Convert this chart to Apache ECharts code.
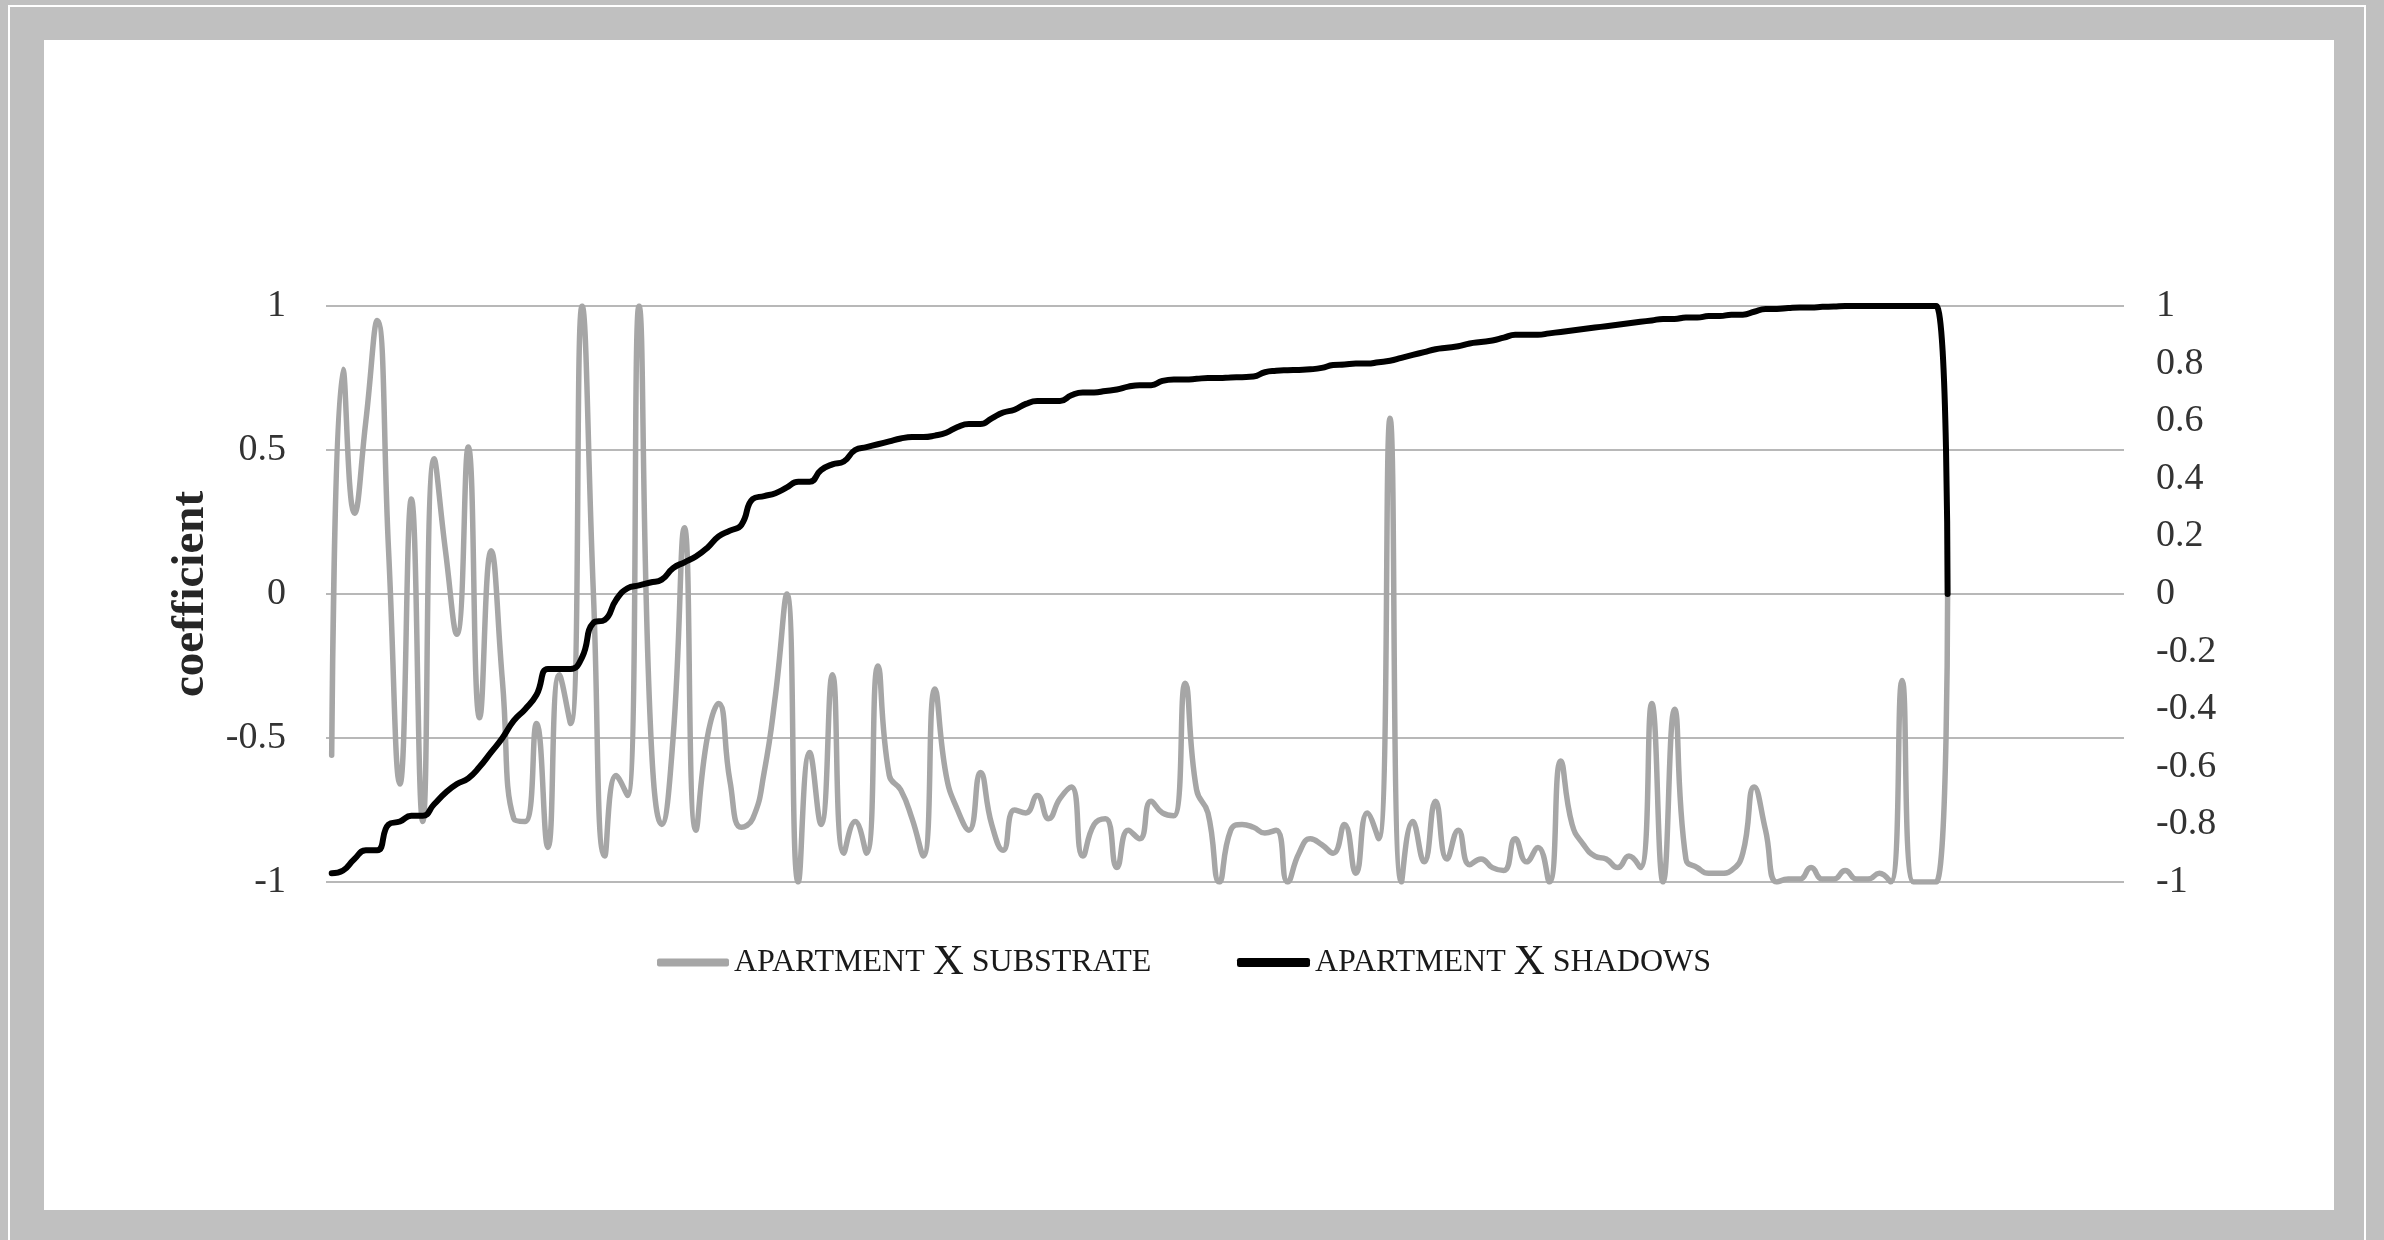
<!DOCTYPE html>
<html>
<head>
<meta charset="utf-8">
<title>coefficient</title>
<script src="https://cdn.jsdelivr.net/npm/echarts@6/dist/echarts.min.js"></script>
<style>
  html, body { margin: 0; padding: 0; width: 2384px; height: 1240px; overflow: hidden; background: #c0c0c0; }
  /* thin white rule inside the grey mount */
  #rule { position: absolute; left: 8px; top: 5px; width: 2358px; height: 1260px; border: 2px solid #ffffff; box-sizing: border-box; }
  /* white paper panel */
  #panel { position: absolute; left: 44px; top: 40px; width: 2290px; height: 1170px; background: #ffffff; }
  #chart { position: absolute; left: 0; top: 0; width: 2384px; height: 1240px; }
</style>
</head>
<body>
<div id="rule"></div>
<div id="panel"></div>
<div id="chart"></div>
<script>
// number of category slots along the horizontal axis (the last ones stay empty)
const CATEGORY_COUNT = 158;
const categories = Array.from({ length: CATEGORY_COUNT }, (_, i) => String(i + 1));

// left axis ticks and right axis ticks
const leftTicks = [-1, -0.5, 0, 0.5, 1];
const rightTicks = [-1, -0.8, -0.6, -0.4, -0.2, 0, 0.2, 0.4, 0.6, 0.8, 1];

// apartment X substrate (grey)
const substrate = [
  -0.56, 0.78, 0.28, 0.60, 0.95, 0.15, -0.66, 0.33, -0.79, 0.47,
  0.15, -0.14, 0.51, -0.43, 0.15, -0.30, -0.78, -0.79, -0.45, -0.88,
  -0.28, -0.45, 1.00, 0.00, -0.91, -0.63, -0.70, 1.00, -0.45, -0.80,
  -0.50, 0.23, -0.82, -0.50, -0.38, -0.65, -0.81, -0.78, -0.62, -0.35,
  0.00, -1.00, -0.55, -0.80, -0.28, -0.90, -0.79, -0.90, -0.25, -0.63,
  -0.68, -0.78, -0.91, -0.33, -0.63, -0.75, -0.82, -0.62, -0.80, -0.89,
  -0.75, -0.76, -0.70, -0.78, -0.71, -0.67, -0.91, -0.80, -0.78, -0.95,
  -0.82, -0.85, -0.72, -0.76, -0.77, -0.31, -0.68, -0.76, -1.00, -0.82,
  -0.80, -0.81, -0.83, -0.82, -1.00, -0.90, -0.85, -0.87, -0.90, -0.80,
  -0.97, -0.76, -0.85, 0.61, -1.00, -0.79, -0.93, -0.72, -0.92, -0.82,
  -0.94, -0.92, -0.95, -0.96, -0.85, -0.93, -0.88, -1.00, -0.58, -0.80,
  -0.87, -0.91, -0.92, -0.95, -0.91, -0.95, -0.38, -1.00, -0.40, -0.92,
  -0.95, -0.97, -0.97, -0.96, -0.90, -0.67, -0.82, -1.00, -0.99, -0.99,
  -0.95, -0.99, -0.99, -0.96, -0.99, -0.99, -0.97, -1.00, -0.30, -1.00,
  -1.00, -1.00, 0.00
];

// apartment X shadows (black)
const shadows = [
  -0.97, -0.96, -0.92, -0.89, -0.89, -0.80, -0.79, -0.77, -0.77, -0.73,
  -0.69, -0.66, -0.64, -0.60, -0.55, -0.50, -0.44, -0.40, -0.35, -0.26,
  -0.26, -0.26, -0.22, -0.10, -0.09, -0.02, 0.02, 0.03, 0.04, 0.05,
  0.09, 0.11, 0.13, 0.16, 0.20, 0.22, 0.24, 0.33, 0.34, 0.35,
  0.37, 0.39, 0.39, 0.43, 0.45, 0.46, 0.50, 0.51, 0.52, 0.53,
  0.54, 0.545, 0.545, 0.55, 0.56, 0.58, 0.59, 0.59, 0.61, 0.63,
  0.64, 0.66, 0.67, 0.67, 0.67, 0.69, 0.70, 0.70, 0.705, 0.71,
  0.72, 0.725, 0.725, 0.74, 0.745, 0.745, 0.747, 0.75, 0.75, 0.752,
  0.753, 0.755, 0.77, 0.775, 0.777, 0.778, 0.78, 0.785, 0.795, 0.797,
  0.80, 0.80, 0.805, 0.81, 0.82, 0.83, 0.84, 0.85, 0.855, 0.86,
  0.87, 0.875, 0.88, 0.89, 0.90, 0.90, 0.90, 0.905, 0.91, 0.915,
  0.92, 0.925, 0.93, 0.935, 0.94, 0.945, 0.95, 0.955, 0.955, 0.96,
  0.96, 0.965, 0.965, 0.97, 0.97, 0.98, 0.99, 0.99, 0.993, 0.995,
  0.995, 0.997, 0.998, 1.00, 1.00, 1.00, 1.00, 1.00, 1.00, 1.00,
  1.00, 1.00, 0.00
];

const SERIF = '"Liberation Serif", "DejaVu Serif", serif';
const GREY = '#a6a6a6';

// small-caps look: lower-case words set in reduced capitals, the "X" in full size
function smallCaps(name) {
  return name.split(' ').map(w => w === 'X' ? '{x|X}' : '{sc|' + w.toUpperCase() + '}').join(' ');
}
const legendText = {
  fontFamily: SERIF, fontSize: 32, color: '#1a1a1a',
  rich: {
    sc: { fontFamily: SERIF, fontSize: 32, color: '#1a1a1a' },
    x: { fontFamily: SERIF, fontSize: 43, color: '#1a1a1a' }
  }
};

const chart = echarts.init(document.getElementById('chart'), null, { renderer: 'canvas' });
chart.setOption({
  animation: false,
  backgroundColor: 'transparent',
  grid: { left: 326, right: 260, top: 306, bottom: 358 },
  legend: [
    {
      data: ['apartment X substrate'], left: 652, top: 936,
      icon: 'roundRect', itemWidth: 72, itemHeight: 8,
      formatter: smallCaps, textStyle: legendText, selectedMode: false
    },
    {
      data: ['apartment X shadows'], left: 1232, top: 936,
      icon: 'roundRect', itemWidth: 73, itemHeight: 9,
      formatter: smallCaps, textStyle: legendText, selectedMode: false
    }
  ],
  xAxis: {
    type: 'category', data: categories, boundaryGap: true,
    axisLine: { show: false }, axisTick: { show: false }, axisLabel: { show: false }, splitLine: { show: false }
  },
  yAxis: [
    {
      type: 'value', min: leftTicks[0], max: leftTicks[leftTicks.length - 1], interval: 0.5,
      position: 'left',
      name: 'coefficient', nameLocation: 'middle', nameGap: 112, nameRotate: 90,
      nameTextStyle: { fontFamily: SERIF, fontWeight: 'bold', fontSize: 47, color: '#262626' },
      axisLine: { show: false }, axisTick: { show: false },
      axisLabel: { fontFamily: SERIF, fontSize: 38, color: '#333333', margin: 40 },
      splitLine: { show: true, lineStyle: { color: '#a0a0a0', width: 1.5 } }
    },
    {
      type: 'value', min: rightTicks[0], max: rightTicks[rightTicks.length - 1], interval: 0.2,
      position: 'right',
      axisLine: { show: false }, axisTick: { show: false },
      axisLabel: { fontFamily: SERIF, fontSize: 38, color: '#333333', margin: 32 },
      splitLine: { show: false }
    }
  ],
  series: [
    {
      name: 'apartment X substrate', type: 'line', yAxisIndex: 0, data: substrate,
      smooth: 0.5, showSymbol: false, symbol: 'none',
      lineStyle: { color: GREY, width: 5.5, cap: 'round', join: 'round' },
      itemStyle: { color: GREY }, z: 2
    },
    {
      name: 'apartment X shadows', type: 'line', yAxisIndex: 1, data: shadows,
      smooth: 0.5, showSymbol: false, symbol: 'none',
      lineStyle: { color: '#000000', width: 6, cap: 'round', join: 'round' },
      itemStyle: { color: '#000000' }, z: 3
    }
  ]
});
</script>
</body>
</html>
